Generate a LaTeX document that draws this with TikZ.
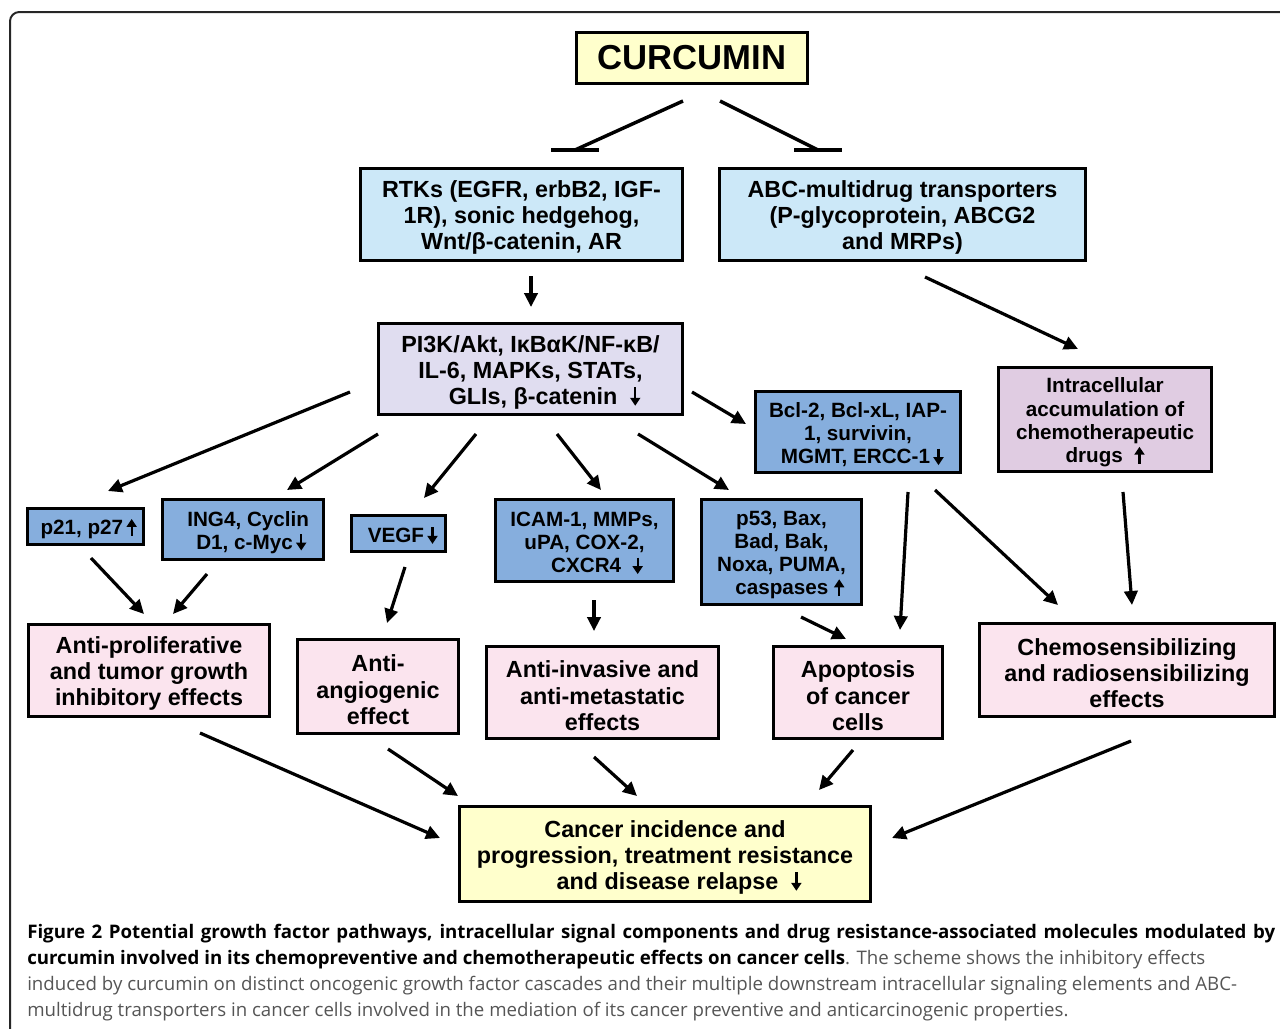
\documentclass[tikz,border=0pt]{standalone}
\usepackage{fontspec}
\setmainfont{Liberation Sans}
\newfontfamily\capfont{Open Sans}
\usetikzlibrary{arrows.meta}
\definecolor{cyel}{HTML}{FFFFCC}
\definecolor{lblue}{HTML}{CCE8F8}
\definecolor{lav}{HTML}{E0DDF0}
\definecolor{mblue}{HTML}{86AEDD}
\definecolor{mauve}{HTML}{E0CCE2}
\definecolor{pinkb}{HTML}{FBE4EE}
\definecolor{capgray}{HTML}{555555}
\newcommand\dnarr{\tikz[baseline=0pt]\draw[line width=1.7pt,-{Triangle[length=6pt,width=7.5pt]}] (0pt,0.74em) -- (0pt,-0.06em);}
\newcommand\uparr{\tikz[baseline=0pt]\draw[line width=1.7pt,-{Triangle[length=6pt,width=7.5pt]}] (0pt,-0.06em) -- (0pt,0.76em);}
\newcommand\fl{\rule{0pt}{1em}}
\tikzset{
  plainbox/.style={draw=black, line width=2.2pt, align=center, inner sep=0pt},
  box/.style={plainbox, font=\bfseries\fontsize{17.5}{19.6}\selectfont},
  sbox/.style={box, font=\bfseries\fontsize{15.5}{17.4}\selectfont},
  wh/.style 2 args={minimum width={(#1)*0.75pt-2.2pt}, minimum height={(#2)*0.75pt-2.2pt}},
  arr/.style={line width=2.4pt, -{Triangle[length=10.5pt,width=10pt]}},
  inh/.style={line width=2.6pt},
  capline/.style={anchor=base west, inner sep=0pt, font=\capfont\fontsize{14}{19.5}\selectfont},
}
\begin{document}
\begin{tikzpicture}[x=0.75pt,y=-0.75pt]
\useasboundingbox (0,0) rectangle (1280,1028);
\clip (0,0) rectangle (1280,1028);
\draw[line width=1.5pt, black!85, rounded corners=7pt] (10,12) rectangle (1300,1045);

% nodes
\node[plainbox, wh={234}{54}, fill=cyel, font=\bfseries\fontsize{26}{30}\selectfont] (cur) at (692,58) {CURCUMIN};
\node[box, wh={325}{95}, fill=lblue] (rtk) at (521.5,214.5) {\fl RTKs (EGFR, erbB2, IGF-\\1R), sonic hedgehog,\\Wnt/β-catenin, AR};
\node[box, wh={369}{95}, fill=lblue] (abc) at (902.5,214.5) {\fl ABC-multidrug transporters\\(P-glycoprotein, ABCG2\\and MRPs)};
\node[box, wh={307}{94}, fill=lav] (pik) at (530.5,369) {\fl PI3K/Akt, IκBαK/NF-κB/\\IL-6, MAPKs, STATs,\\\hspace*{1.2em}GLIs, β-catenin\ \ \dnarr};
\node[sbox, wh={208}{84}, fill=mblue] (bcl) at (858,432) {\fl Bcl-2, Bcl-xL, IAP-\\1, survivin,\\\hspace*{0.4em}MGMT, ERCC-1\,\dnarr};
\node[sbox, wh={216}{107}, fill=mauve] (intra) at (1105,419.5) {\fl Intracellular\\accumulation of\\chemotherapeutic\\drugs\ \ \uparr};
\node[sbox, wh={119}{39}, fill=mblue] (p21) at (85.5,526.5) {\fl\hspace*{0.3em}p21, p27\,\uparr};
\node[sbox, wh={164}{63}, fill=mblue] (ing) at (243,529.5) {\fl\hspace*{0.5em}ING4, Cyclin\\\hspace*{0.8em}D1, c-Myc\,\dnarr};
\node[sbox, wh={97}{39}, fill=mblue] (vegf) at (398.5,533.5) {\fl\hspace*{0.4em}VEGF\,\dnarr};
\node[sbox, wh={181}{85}, fill=mblue] (icam) at (584.5,540.5) {\fl ICAM-1, MMPs,\\uPA, COX-2,\\\hspace*{1.2em}CXCR4\ \ \dnarr};
\node[sbox, wh={163}{108}, fill=mblue] (p53) at (781.5,552) {\fl p53, Bax,\\Bad, Bak,\\Noxa, PUMA,\\\hspace*{0.8em}caspases\ \uparr};
\node[box, wh={244}{95}, fill=pinkb] (apr) at (149,670.5) {\fl Anti-proliferative\\and tumor growth\\inhibitory effects};
\node[box, wh={164}{97}, fill=pinkb] (aan) at (378,686.5) {\fl Anti-\\angiogenic\\effect};
\node[box, wh={235}{95}, fill=pinkb] (ain) at (602.5,692.5) {\fl Anti-invasive and\\anti-metastatic\\effects};
\node[box, wh={172}{95}, fill=pinkb] (apo) at (858,692.5) {\fl Apoptosis\\of cancer\\cells};
\node[box, wh={298}{96}, fill=pinkb] (che) at (1127,670) {\fl Chemosensibilizing\\and radiosensibilizing\\effects};
\node[box, wh={414}{98}, fill=cyel] (can) at (665,854) {\fl Cancer incidence and\\progression, treatment resistance\\\hspace*{1.2em}and disease relapse\ \ \dnarr};

% connector end points
\coordinate (curL) at (683,101); \coordinate (rtkT) at (575,150);
\coordinate (curR) at (720,101); \coordinate (abcT) at (818,150);
\coordinate (rtkB) at (531,276); \coordinate (pikT) at (531,307);
\coordinate (abcB) at (925,277); \coordinate (intraT) at (1078,349);
\coordinate (pikR) at (692,392); \coordinate (bclL) at (746,424);
\coordinate (pikL1) at (350,392); \coordinate (p21T) at (108,491);
\coordinate (pikB1) at (378,434); \coordinate (ingT) at (287,490);
\coordinate (pikB2) at (476,434); \coordinate (vegfT) at (424,498);
\coordinate (pikB3) at (557,434); \coordinate (icamT) at (601,490);
\coordinate (pikB4) at (638,434); \coordinate (p53T) at (729,490);
\coordinate (p21B) at (91,558); \coordinate (aprT1) at (144,614);
\coordinate (ingB) at (207,574); \coordinate (aprT2) at (173,614);
\coordinate (vegfB) at (405,567); \coordinate (aanT) at (387,623);
\coordinate (icamB) at (594,600); \coordinate (ainT) at (594,631);
\coordinate (p53B) at (801,617); \coordinate (apoT1) at (846,639);
\coordinate (bclB1) at (908,492); \coordinate (apoT2) at (900,630);
\coordinate (bclB2) at (935,490); \coordinate (cheT1) at (1058,605);
\coordinate (intraB) at (1123,492); \coordinate (cheT2) at (1132,605);
\coordinate (aprB) at (200,733); \coordinate (canL) at (440,838);
\coordinate (aanB) at (388,749); \coordinate (canT1) at (458,796);
\coordinate (ainB) at (594,757); \coordinate (canT2) at (637,796);
\coordinate (apoB) at (853,750); \coordinate (canT3) at (819,790);
\coordinate (cheB) at (1131,741); \coordinate (canR) at (892,838);

% inhibition connectors (cur -> rtk, cur -> abc)
\draw[inh] (curL) -- (rtkT);
\draw[inh] ([xshift=-18]rtkT) -- ([xshift=18]rtkT);
\draw[inh] (curR) -- (abcT);
\draw[inh] ([xshift=-18]abcT) -- ([xshift=18]abcT);

% activation connectors
\draw[arr] (rtkB) -- (pikT);
\draw[arr] (abcB) -- (intraT);
\draw[arr] (pikR) -- (bclL);
\draw[arr] (pikL1) -- (p21T);
\draw[arr] (pikB1) -- (ingT);
\draw[arr] (pikB2) -- (vegfT);
\draw[arr] (pikB3) -- (icamT);
\draw[arr] (pikB4) -- (p53T);
\draw[arr] (p21B) -- (aprT1);
\draw[arr] (ingB) -- (aprT2);
\draw[arr] (vegfB) -- (aanT);
\draw[arr] (icamB) -- (ainT);
\draw[arr] (p53B) -- (apoT1);
\draw[arr] (bclB1) -- (apoT2);
\draw[arr] (bclB2) -- (cheT1);
\draw[arr] (intraB) -- (cheT2);
\draw[arr] (aprB) -- (canL);
\draw[arr] (aanB) -- (canT1);
\draw[arr] (ainB) -- (canT2);
\draw[arr] (apoB) -- (canT3);
\draw[arr] (cheB) -- (canR);

% caption
\node[capline] (c1) at (27,938) {\makebox[936pt][s]{\bfseries Figure 2 Potential growth factor pathways, intracellular signal components and drug resistance-associated molecules modulated by}};
\node[capline] (c2) at (27,964) {\bfseries curcumin involved in its chemopreventive and chemotherapeutic effects on cancer cells\mdseries\color{capgray}. The scheme shows the inhibitory effects};
\node[capline, text=capgray] (c3) at (27,990) {induced by curcumin on distinct oncogenic growth factor cascades and their multiple downstream intracellular signaling elements and ABC-};
\node[capline, text=capgray] (c4) at (27,1016) {multidrug transporters in cancer cells involved in the mediation of its cancer preventive and anticarcinogenic properties.};
\end{tikzpicture}
\end{document}
